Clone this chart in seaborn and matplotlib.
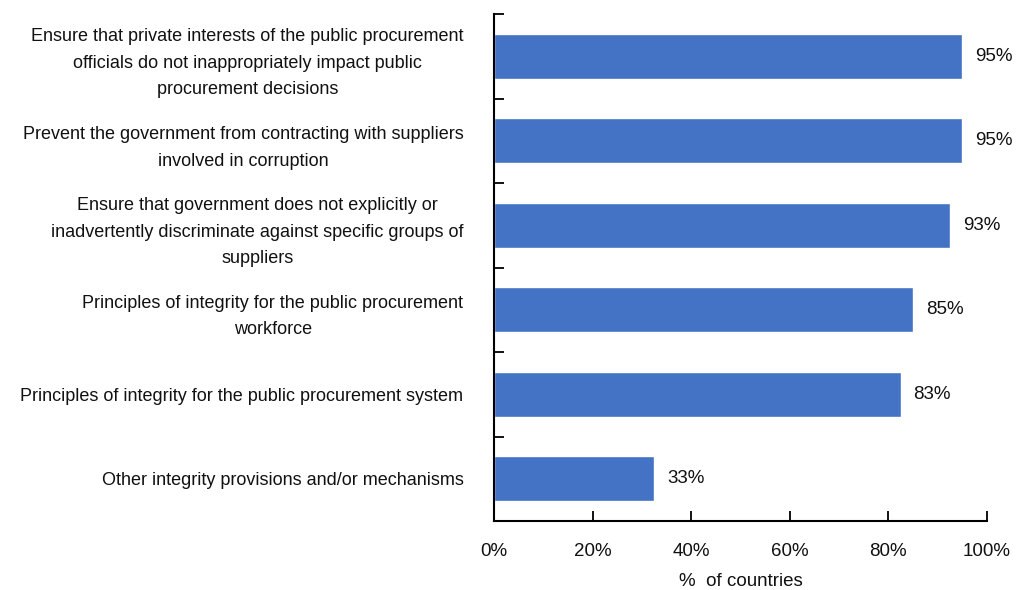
import matplotlib
matplotlib.use("Agg")
import matplotlib.pyplot as plt
from matplotlib import font_manager
from matplotlib.ticker import FixedLocator, PercentFormatter
import seaborn as sns
import pandas as pd

categories = [
    "Ensure that private interests of the public procurement\nofficials do not inappropriately impact public\nprocurement decisions",
    "Prevent the government from contracting with suppliers\ninvolved in corruption",
    "Ensure that government does not explicitly or\ninadvertently discriminate against specific groups of\nsuppliers",
    "Principles of integrity for the public procurement\nworkforce",
    "Principles of integrity for the public procurement system",
    "Other integrity provisions and/or mechanisms",
]
shares = [95.0, 95.0, 92.5, 85.0, 82.5, 32.5]
x_ticks = [0, 20, 40, 60, 80, 100]
x_label = "%  of countries"

sns.set_theme(style="white")
available = {f.name for f in font_manager.fontManager.ttflist}
family = "Liberation Sans Narrow" if "Liberation Sans Narrow" in available else "Liberation Sans"
plt.rcParams["font.family"] = [family, "DejaVu Sans"]

text_color = "#111111"
df = pd.DataFrame({"category": categories, "share": shares})

fig = plt.figure(figsize=(10.18, 5.90), dpi=100)
ax = fig.add_axes([494 / 1018, 1 - 521 / 590, 493 / 1018, 507 / 590])

sns.barplot(data=df, x="share", y="category", orient="h", color="#4472C4",
            saturation=1, width=0.53, ax=ax)

ax.set_xlim(0, 100)
ax.set_ylim(len(categories) - 0.5, -0.5)

for i, v in enumerate(shares):
    ax.text(v + 2.6, i, f"{int(v + 0.5)}%", va="center", ha="left",
            fontsize=13.5, color=text_color)

ax.xaxis.set_major_locator(FixedLocator(x_ticks))
ax.xaxis.set_major_formatter(PercentFormatter(decimals=0))
ax.tick_params(axis="x", direction="in", length=7, width=1.3, color="black",
               labelsize=13.5, pad=16, labelcolor=text_color, bottom=True)
ax.set_xlabel(x_label, fontsize=13.5, color=text_color, labelpad=9)
ax.set_ylabel("")

ax.yaxis.set_minor_locator(FixedLocator([i - 0.5 for i in range(len(categories))]))
ax.tick_params(axis="y", which="major", length=0, labelsize=13, pad=22,
               labelcolor=text_color)
ax.tick_params(axis="y", which="minor", direction="in", length=7, width=1.3,
               color="black", left=True)
for lab in ax.get_yticklabels():
    lab.set_multialignment("center")
    lab.set_linespacing(1.75)

for side in ["top", "right"]:
    ax.spines[side].set_visible(False)
for side in ["left", "bottom"]:
    ax.spines[side].set_color("black")
    ax.spines[side].set_linewidth(1.5)

fig.savefig("out.png", dpi=100)
